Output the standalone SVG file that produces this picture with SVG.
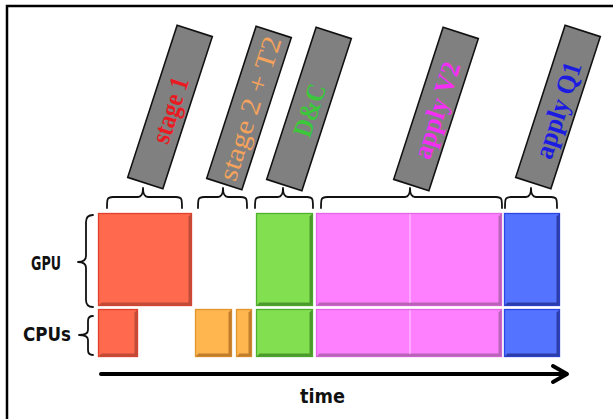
<svg xmlns="http://www.w3.org/2000/svg" width="613" height="419" viewBox="0 0 613 419">
  <style>
    .frame { fill: none; stroke: #000; stroke-width: 2.5; }
    .tag rect { fill: #808080; stroke: #111; stroke-width: 1.6; }
    .tag text { font-family: "Liberation Serif", "Times New Roman", serif; font-size: 27px; text-anchor: middle; }
    .brace { fill: none; stroke: #111; stroke-width: 1.8; stroke-linecap: round; stroke-linejoin: round; }
    .lbl { font-family: "DejaVu Sans", "Liberation Sans", sans-serif; font-weight: bold; fill: #111; }
    .bar { stroke-width: 1.3; }
    .red { fill: #ff6a4f; stroke: #e0402c; }
    .red-s { fill: #c24b38; }
    .org { fill: #ffb64e; stroke: #e0952e; }
    .org-s { fill: #c27d2c; }
    .grn { fill: #82e050; stroke: #4fb02e; }
    .grn-s { fill: #4d9a2c; }
    .mag { fill: #ff80ff; stroke: #e466e4; }
    .mag-s { fill: #b862b8; }
    .blu { fill: #5474ff; stroke: #2a46e6; }
    .blu-s { fill: #2c3ca8; }
    .axis { fill: none; stroke: #000; stroke-width: 4; stroke-linecap: round; stroke-linejoin: round; }
  </style>

  <!-- outer frame: top and left edges -->
  <path class="frame" d="M7,419 L7,6 L613,6"/>

  <!-- slanted phase tags -->
  <g id="tag-stage1" class="tag" transform="translate(170,107) rotate(18)">
    <rect x="-18.5" y="-80" width="37" height="160"/>
    <text transform="rotate(-90)" x="-3" y="10" fill="#ea1a22" font-weight="bold" textLength="68" lengthAdjust="spacingAndGlyphs">stage 1</text>
  </g>
  <g id="tag-stage2" class="tag" transform="translate(249,108) rotate(18)">
    <rect x="-18.5" y="-80" width="37" height="160"/>
    <text transform="rotate(-90)" x="0" y="10" fill="#f5a25c" textLength="150" lengthAdjust="spacingAndGlyphs">stage 2 + T2</text>
  </g>
  <g id="tag-dc" class="tag" transform="translate(309,109) rotate(18)">
    <rect x="-18.5" y="-80" width="37" height="160"/>
    <text transform="rotate(-90)" x="-1" y="10" fill="#3cc63c" font-weight="bold" textLength="54" lengthAdjust="spacingAndGlyphs">D&amp;C</text>
  </g>
  <g id="tag-applyV2" class="tag" transform="translate(436,109) rotate(18)">
    <rect x="-18.5" y="-80" width="37" height="160"/>
    <text transform="rotate(-90)" x="-1" y="10" fill="#f22ff2" font-weight="bold" textLength="100" lengthAdjust="spacingAndGlyphs">apply V2</text>
  </g>
  <g id="tag-applyQ1" class="tag" transform="translate(558,107) rotate(18)">
    <rect x="-18.5" y="-80" width="37" height="160"/>
    <text transform="rotate(-90)" x="-3" y="10" fill="#1c1ce0" font-weight="bold" textLength="100" lengthAdjust="spacingAndGlyphs">apply Q1</text>
  </g>

  <!-- braces grouping each phase, row braces and the time axis -->
  <g id="connectors">
    <path class="brace" d="M107,208 C107,199 107,197 113,197 L138,197 C141,197 143,195 143,188 C143,195 145,197 148,197 L176,197 C182,197 182,199 182,208"/>
    <path class="brace" d="M198,208 C198,199 198,197 204,197 L218,197 C221,197 223,195 223,188 C223,195 225,197 228,197 L241,197 C247,197 247,199 247,208"/>
    <path class="brace" d="M255,208 C255,199 255,197 261,197 L278,197 C281,197 283,195 283,188 C283,195 285,197 288,197 L307,197 C313,197 313,199 313,208"/>
    <path class="brace" d="M321,208 C321,199 321,197 327,197 L405,197 C408,197 410,195 410,188 C410,195 412,197 415,197 L496,197 C502,197 502,199 502,208"/>
    <path class="brace" d="M505,208 C505,199 505,197 511,197 L526,197 C529,197 531,195 531,188 C531,195 533,197 536,197 L551,197 C557,197 557,199 557,208"/>
    <path class="brace" d="M93,215 Q86,215 86,222 L86,256 Q86,262 78,262 Q86,262 86,268 L86,300 Q86,307 93,307"/>
    <path class="brace" d="M93,316 Q88,316 88,321 L88,330 Q88,335 79,335 Q88,335 88,340 L88,350 Q88,355 93,355"/>
    <path class="axis" d="M101,374 L566,374"/>
    <path class="axis" d="M553,366 L567,374 L553,382"/>
  </g>

  <!-- row labels -->
  <text id="label-gpu" class="lbl" x="31" y="270" font-size="20" textLength="30" lengthAdjust="spacingAndGlyphs">GPU</text>
  <text id="label-cpus" class="lbl" x="23" y="341" font-size="20" textLength="48" lengthAdjust="spacingAndGlyphs">CPUs</text>
  <text id="label-time" class="lbl" x="300" y="403" font-size="20" textLength="45" lengthAdjust="spacingAndGlyphs">time</text>

  <!-- work blocks -->
  <g id="stage1-gpu">
    <rect class="bar red" x="98.5" y="213.5" width="93" height="92"/>
    <path class="red-s" d="M191.5,213.5 L191.5,305.5 L98.5,305.5 L101.5,302.5 L188.5,302.5 L188.5,216.5 Z"/>
  </g>
  <g id="stage1-cpu">
    <rect class="bar red" x="98.5" y="309.5" width="39" height="47"/>
    <path class="red-s" d="M137.5,309.5 L137.5,356.5 L98.5,356.5 L101.5,353.5 L134.5,353.5 L134.5,312.5 Z"/>
  </g>
  <g id="stage2-cpu-a">
    <rect class="bar org" x="195.5" y="309.5" width="36" height="47"/>
    <path class="org-s" d="M231.5,309.5 L231.5,356.5 L195.5,356.5 L198.5,353.5 L228.5,353.5 L228.5,312.5 Z"/>
  </g>
  <g id="stage2-cpu-b">
    <rect class="bar org" x="236.5" y="309.5" width="15" height="47"/>
    <path class="org-s" d="M251.5,309.5 L251.5,356.5 L236.5,356.5 L239.5,353.5 L248.5,353.5 L248.5,312.5 Z"/>
  </g>
  <g id="dc-gpu">
    <rect class="bar grn" x="256.5" y="213.5" width="56" height="92"/>
    <path class="grn-s" d="M312.5,213.5 L312.5,305.5 L256.5,305.5 L259.5,302.5 L309.5,302.5 L309.5,216.5 Z"/>
  </g>
  <g id="dc-cpu">
    <rect class="bar grn" x="256.5" y="309.5" width="56" height="47"/>
    <path class="grn-s" d="M312.5,309.5 L312.5,356.5 L256.5,356.5 L259.5,353.5 L309.5,353.5 L309.5,312.5 Z"/>
  </g>
  <g id="applyV2-gpu">
    <rect class="bar mag" x="316.5" y="213.5" width="185" height="92"/>
    <path class="mag-s" d="M501.5,213.5 L501.5,305.5 L316.5,305.5 L319.5,302.5 L498.5,302.5 L498.5,216.5 Z"/>
    <line x1="410" y1="214" x2="410" y2="303" stroke="#ffd0ff" stroke-width="1"/>
  </g>
  <g id="applyV2-cpu">
    <rect class="bar mag" x="316.5" y="309.5" width="185" height="47"/>
    <path class="mag-s" d="M501.5,309.5 L501.5,356.5 L316.5,356.5 L319.5,353.5 L498.5,353.5 L498.5,312.5 Z"/>
    <line x1="410" y1="310" x2="410" y2="354" stroke="#ffd0ff" stroke-width="1"/>
  </g>
  <g id="applyQ1-gpu">
    <rect class="bar blu" x="504.5" y="213.5" width="55" height="92"/>
    <path class="blu-s" d="M559.5,213.5 L559.5,305.5 L504.5,305.5 L507.5,302.5 L556.5,302.5 L556.5,216.5 Z"/>
  </g>
  <g id="applyQ1-cpu">
    <rect class="bar blu" x="504.5" y="309.5" width="55" height="47"/>
    <path class="blu-s" d="M559.5,309.5 L559.5,356.5 L504.5,356.5 L507.5,353.5 L556.5,353.5 L556.5,312.5 Z"/>
  </g>
</svg>
